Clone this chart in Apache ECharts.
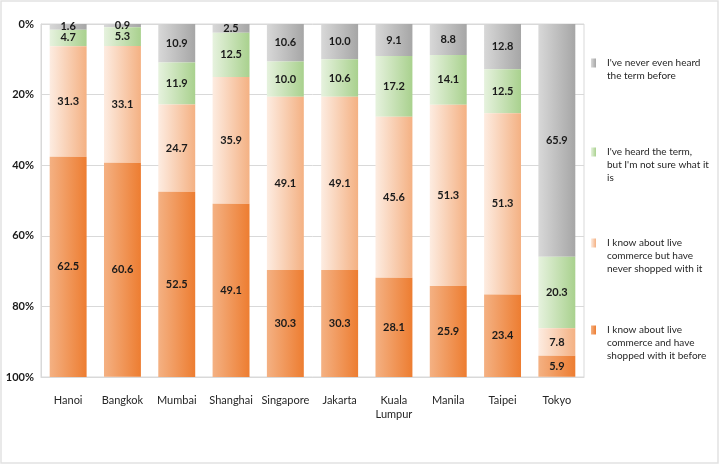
<!DOCTYPE html>
<html>
<head>
<meta charset="utf-8">
<script src="https://cdn.jsdelivr.net/npm/echarts@6/dist/echarts.min.js"></script>
<style>
html,body{margin:0;padding:0;background:#fff;}
#c{width:720px;height:464px;}
</style>
</head>
<body>
<div id="c"></div>
<script>
const categories = ['Hanoi','Bangkok','Mumbai','Shanghai','Singapore','Jakarta','Kuala\nLumpur','Manila','Taipei','Tokyo'];
const neverHeard = [1.6, 0.9, 10.9, 2.5, 10.6, 10.0, 9.1, 8.8, 12.8, 65.9];
const heardNotSure = [4.7, 5.3, 11.9, 12.5, 10.0, 10.6, 17.2, 14.1, 12.5, 20.3];
const knowNotShopped = [31.3, 33.1, 24.7, 35.9, 49.1, 49.1, 45.6, 51.3, 51.3, 7.8];
const knowShopped = [62.5, 60.6, 52.5, 49.1, 30.3, 30.3, 28.1, 25.9, 23.4, 5.9];
const yTicks = [0, 20, 40, 60, 80, 100];

const names = [
  "I've never even heard\nthe term before",
  "I've heard the term,\nbut I'm not sure what it\nis",
  "I know about live\ncommerce but have\nnever shopped with it",
  "I know about live\ncommerce and have\nshopped with it before"
];
const grads = [
  ['#d8d8d8', '#a6a6a6'],
  ['#e6f2de', '#a9d18e'],
  ['#fdece1', '#f4b183'],
  ['#f4b183', '#ed7d31']
];
const seriesData = [neverHeard, heardNotSure, knowNotShopped, knowShopped];
const font = 'Lato';

function grad(c) {
  return new echarts.graphic.LinearGradient(0, 0, 1, 0, [
    {offset: 0, color: c[0]}, {offset: 1, color: c[1]}
  ]);
}

const series = seriesData.map((d, i) => ({
  name: names[i],
  type: 'bar',
  stack: 'all',
  barCategoryGap: '32%',
  data: d,
  itemStyle: {color: grad(grads[i])},
  label: {
    show: true,
    position: 'inside',
    fontFamily: font,
    fontWeight: 'bold',
    fontSize: 11,
    color: '#1a1a1a',
    formatter: p => p.value.toFixed(1)
  },
  emphasis: {disabled: true}
}));

// legend: icon aligned with first text line (text block is centred on icon,
// so blank lines are prepended to put the first real line at the centre)
const lh = 13;
const legendFirstLine = [63, 152, 243, 330];
const legends = names.map((nm, i) => {
  const n = nm.split('\n').length;
  const H = (2 * n - 1) * lh;
  return {
    data: [nm],
    orient: 'vertical',
    left: 591,
    top: legendFirstLine[i] - H / 2,
    padding: 0,
    itemWidth: 5,
    itemHeight: 9,
    itemGap: 0,
    selectedMode: false,
    icon: 'rect',
    formatter: t => '\n'.repeat(n - 1) + t,
    textStyle: {
      fontFamily: font,
      fontSize: 10,
      color: '#262626',
      lineHeight: lh,
      padding: [0, 0, 0, 6]
    }
  };
});

const chart = echarts.init(document.getElementById('c'));
chart.setOption({
  animation: false,
  backgroundColor: '#fff',
  textStyle: {fontFamily: font},
  graphic: [{
    type: 'rect',
    shape: {x: 1, y: 1, width: 717, height: 462},
    style: {fill: 'none', stroke: '#e2e2e2', lineWidth: 1.5},
    silent: true,
    z: -1
  }],
  grid: {
    left: 41, right: 136, top: 24, bottom: 87,
    show: true, borderColor: '#d9d9d9', borderWidth: 1
  },
  legend: legends,
  xAxis: {
    type: 'category',
    data: categories,
    axisLine: {onZero: false, lineStyle: {color: '#d9d9d9'}},
    axisTick: {show: false},
    axisLabel: {
      fontFamily: font, fontSize: 11, color: '#262626',
      margin: 16, lineHeight: 14, interval: 0
    }
  },
  yAxis: {
    type: 'value',
    inverse: true,
    min: yTicks[0],
    max: yTicks[yTicks.length - 1],
    interval: 20,
    axisLine: {show: true, lineStyle: {color: '#d9d9d9'}},
    axisTick: {show: false},
    splitLine: {lineStyle: {color: '#d9d9d9'}},
    axisLabel: {
      fontFamily: font, fontSize: 11, fontWeight: 'bold', color: '#1a1a1a',
      margin: 7, formatter: v => v + '%'
    }
  },
  series: series
});
</script>
</body>
</html>
